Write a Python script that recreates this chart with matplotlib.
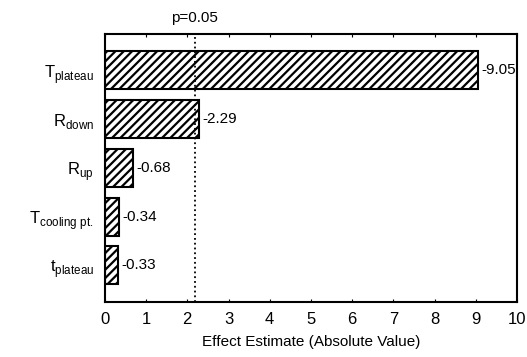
import matplotlib.pyplot as plt
import matplotlib.transforms as mtransforms
import numpy as np

# Pareto chart of effects (absolute value)
factors = [r'T$_{\mathrm{plateau}}$', r'R$_{\mathrm{down}}$', r'R$_{\mathrm{up}}$',
           r'T$_{\mathrm{cooling\ pt.}}$', r't$_{\mathrm{plateau}}$']
effects = [-9.05, -2.29, -0.68, -0.34, -0.33]
p_limit = 2.18
xticks = list(range(0, 11))

plt.rcParams['font.family'] = ['Liberation Sans', 'DejaVu Sans']
plt.rcParams['mathtext.fontset'] = 'custom'
plt.rcParams['mathtext.rm'] = 'Liberation Sans'
plt.rcParams['hatch.linewidth'] = 1.6

fig = plt.figure(figsize=(5.27, 3.57), dpi=100)
ax = fig.add_axes([0.199, 0.154, 0.782, 0.751])

ypos = np.arange(len(factors))
ax.barh(ypos, np.abs(effects), height=0.78, color='white', edgecolor='black',
        hatch='////', linewidth=1.5)
for y, v in zip(ypos, effects):
    ax.text(abs(v) + 0.08, y, '%.2f' % v, va='center', ha='left', fontsize=11)

ax.axvline(p_limit, color='black', linestyle=':', linewidth=1.3)
trans = mtransforms.blended_transform_factory(ax.transData, ax.transAxes)
ax.text(p_limit, 1.035, 'p=0.05', ha='center', va='bottom', fontsize=11,
        transform=trans, clip_on=False)

ax.set_xlim(0, 10)
ax.set_ylim(4.75, -0.75)
ax.set_xticks(xticks)
ax.set_yticks(ypos)
ax.set_yticklabels(factors, fontsize=12)
ax.tick_params(axis='x', labelsize=12, length=2, direction='in', top=True, pad=7)
ax.tick_params(axis='y', length=0, pad=8)
for s in ax.spines.values():
    s.set_linewidth(1.5)
ax.set_xlabel('Effect Estimate (Absolute Value)', fontsize=11, labelpad=6)

fig.savefig('out.png', dpi=100)
